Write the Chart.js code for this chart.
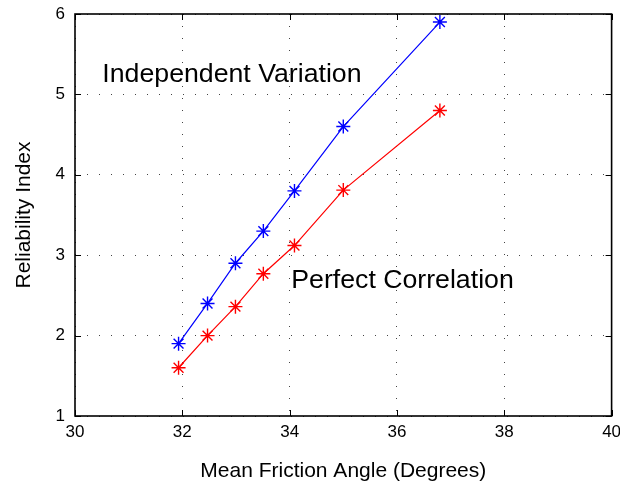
<!DOCTYPE html>
<html>
<head>
<meta charset="utf-8">
<script src="https://cdn.jsdelivr.net/npm/chart.js@4.4.1/dist/chart.umd.min.js"></script>
<style>
  html, body { margin: 0; padding: 0; background: #fff; }
  canvas { display: block; }
</style>
</head>
<body>
<canvas id="myChart" width="620" height="485"></canvas>
<script>
const frictionAngle = [31.93, 32.47, 32.99, 33.51, 34.09, 35.0, 36.8];
const independent = [1.9, 2.4, 2.9, 3.3, 3.8, 4.6, 5.9];
const correlated = [1.6, 2.0, 2.36, 2.77, 3.12, 3.81, 4.8];
const xTicks = [30, 32, 34, 36, 38, 40];
const yTicks = [1, 2, 3, 4, 5, 6];

const family = "'Liberation Sans', Arial, Helvetica, sans-serif";

// text labels inside the plot, placed in data units
const notes = [
  { text: 'Independent Variation', x: 30.51, y: 5.15 },
  { text: 'Perfect Correlation', x: 34.03, y: 2.59 },
];

function points(ys) {
  return frictionAngle.map((x, i) => ({ x: x, y: ys[i] }));
}

function series(label, ys, color) {
  return {
    label: label,
    data: points(ys),
    borderColor: color,
    backgroundColor: color,
    borderWidth: 1.2,
    pointStyle: 'star',
    pointRadius: 7,
    pointBorderWidth: 1.4,
    pointHoverRadius: 7,
    showLine: true,
    tension: 0,
  };
}

// MATLAB style box with inward ticks, plus the text notes
const frame = {
  id: 'frame',
  afterDraw(chart) {
    const { ctx, chartArea: a, scales: { x, y } } = chart;
    ctx.save();
    ctx.strokeStyle = '#000';
    ctx.lineWidth = 1;
    ctx.beginPath();
    xTicks.forEach(v => {
      const px = Math.round(x.getPixelForValue(v)) + 0.5;
      ctx.moveTo(px, a.bottom); ctx.lineTo(px, a.bottom - 6);
      ctx.moveTo(px, a.top); ctx.lineTo(px, a.top + 6);
    });
    yTicks.forEach(v => {
      const py = Math.round(y.getPixelForValue(v)) + 0.5;
      ctx.moveTo(a.left, py); ctx.lineTo(a.left + 6, py);
      ctx.moveTo(a.right, py); ctx.lineTo(a.right - 6, py);
    });
    ctx.stroke();
    ctx.lineWidth = 1.6;
    ctx.strokeRect(a.left, a.top, a.right - a.left, a.bottom - a.top);

    ctx.fillStyle = '#000';
    ctx.font = '26.7px ' + family;
    ctx.textAlign = 'left';
    ctx.textBaseline = 'alphabetic';
    notes.forEach(n => {
      ctx.fillText(n.text, x.getPixelForValue(n.x), y.getPixelForValue(n.y));
    });
    ctx.restore();
  }
};

const data = {
  datasets: [
    series('Independent Variation', independent, '#0000ff'),
    series('Perfect Correlation', correlated, '#ff0000'),
  ]
};

const gridLines = { color: '#444', lineWidth: 1, drawTicks: false };
const dotted = { display: false, dash: [1, 11] };

const config = {
  type: 'scatter',
  data: data,
  options: {
    responsive: false,
    animation: false,
    layout: { padding: { top: 14, right: 7, left: 0, bottom: 0 } },
    plugins: {
      legend: { display: false },
      tooltip: { enabled: false },
    },
    scales: {
      x: {
        type: 'linear',
        min: 30,
        max: 40,
        grid: gridLines,
        border: dotted,
        afterBuildTicks: s => { s.ticks = xTicks.map(v => ({ value: v })); },
        afterFit: s => { s.height = 69; s.paddingLeft = 0; s.paddingRight = 0; },
        ticks: { color: '#000', padding: 6, font: { family: family, size: 17 } },
        title: {
          display: true,
          text: 'Mean Friction Angle (Degrees)',
          color: '#000',
          font: { family: family, size: 21 },
          padding: { top: 0, bottom: 1 },
        },
      },
      y: {
        type: 'linear',
        min: 1,
        max: 6,
        grid: gridLines,
        border: dotted,
        afterBuildTicks: s => { s.ticks = yTicks.map(v => ({ value: v })); },
        afterFit: s => { s.width = 75; s.paddingTop = 0; s.paddingBottom = 0; },
        ticks: { color: '#000', padding: 10, font: { family: family, size: 17 } },
        title: {
          display: true,
          text: 'Reliability Index',
          color: '#000',
          font: { family: family, size: 21 },
          padding: { top: 12, bottom: 0 },
        },
      },
    },
  },
  plugins: [frame],
};

const myChart = new Chart(document.getElementById('myChart'), config);
</script>
</body>
</html>
